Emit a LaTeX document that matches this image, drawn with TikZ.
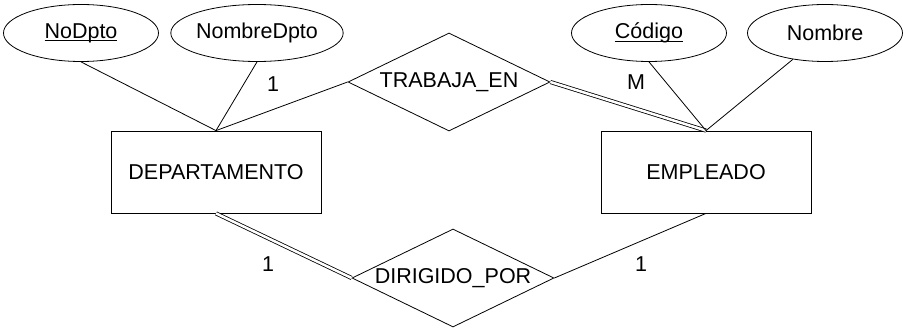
\documentclass[tikz,border=0pt]{standalone}
\usepackage{fontspec}
\setmainfont{Liberation Sans}
\usetikzlibrary{shapes.geometric}
\newcommand\keyul[1]{\setbox0\hbox{#1}\rlap{\rule[-2.8pt]{\wd0}{0.9pt}}\box0}
\begin{document}
\begin{tikzpicture}[x=1pt,y=-1pt, line width=0.8pt,
  every node/.style={font=\fontsize{21.5}{25}\selectfont},
  attr/.style={draw, ellipse, minimum width=155pt, minimum height=57pt, inner sep=0pt},
  ent/.style={draw, rectangle, minimum width=210pt, minimum height=82pt, inner sep=0pt},
  rel/.style={draw, diamond, aspect=2.06, minimum width=202pt, minimum height=98pt, inner sep=0pt},
  card/.style={inner sep=0pt},
  dbl/.style={double, double distance=2.5pt}]
\useasboundingbox (0,0) rectangle (903,329);
\node[attr] (nodpto) at (81,33) {\keyul{NoDpto}};
\node[attr] (nombredpto) at (257,33) {NombreDpto};
\node[attr] (codigo) at (649,33) {\keyul{Código}};
\node[attr] (nombre) at (825,33) {Nombre};
\node[ent] (dep) at (216,172) {DEPARTAMENTO};
\node[ent] (emp) at (706,172) {EMPLEADO};
\node[rel] (trab) at (449,82) {TRABAJA\_EN};
\node[rel] (dir) at (453,278) {DIRIGIDO\_POR};
\draw (nodpto.south) -- (dep.north);
\draw (nombredpto.south) -- (dep.north);
\draw (dep.north) -- (trab.west);
\draw[dbl] (trab.east) -- (emp.north);
\draw (codigo.south) -- (emp.north);
\draw (nombre) -- (emp.north);
\draw[dbl] (dep.south) -- (dir.west);
\draw (emp.south) -- (dir.east);
\node[card] (c1) at (273,84) {1};
\node[card] (cm) at (636,82) {M};
\node[card] (c2) at (268,264) {1};
\node[card] (c3) at (641,264) {1};
\end{tikzpicture}
\end{document}
